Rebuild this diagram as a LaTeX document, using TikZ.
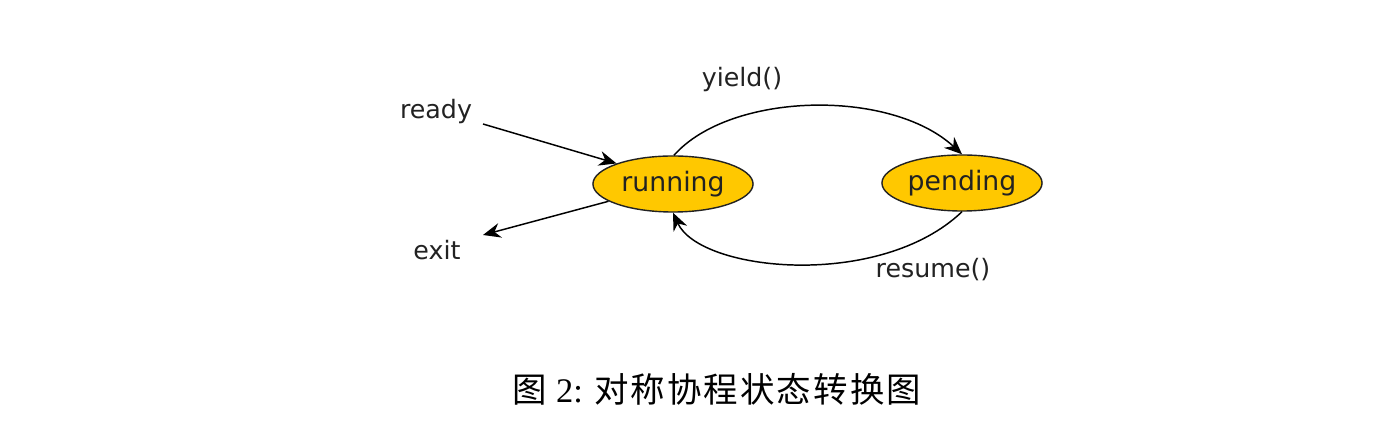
\documentclass[tikz,border=0pt]{standalone}
\usepackage{fontspec}
\setmainfont{Liberation Serif}
\newfontfamily\labelfont{DejaVu Sans}
\newfontfamily\cjk[LetterSpace=6]{Noto Sans CJK SC}
\usetikzlibrary{shapes.geometric,arrows.meta}
\definecolor{stategold}{HTML}{FFC800}
\definecolor{inkgray}{HTML}{222222}
\tikzset{
  state/.style={ellipse, draw=inkgray, line width=0.4pt, fill=stategold,
    minimum width=1.60cm, minimum height=0.56cm, inner sep=0pt,
    font=\labelfont\fontsize{7.6}{8}\selectfont, text=inkgray},
  lbl/.style={font=\labelfont\fontsize{7.2}{8}\selectfont, text=inkgray, inner sep=0pt},
  conn/.style={draw=black, line width=0.42pt, -{Stealth[length=5pt,width=4.2pt]}},
}
\begin{document}
\begin{tikzpicture}[x=0.01cm,y=-0.01cm]
\useasboundingbox[fill=white] (0,0) rectangle (1390,443);
\node[state] (running) at (673,184) {running};
\node[state] (pending) at (962,183) {pending};
\node[lbl] (ready) at (436,112) {ready};
\node[lbl] (exit) at (437,250) {exit};
\node[lbl] (yield) at (742,80) {yield()};
\node[lbl] (resume) at (933,270) {resume()};
\coordinate (readyend) at (483,124);
\coordinate (exitend) at (483,235);
\draw[conn] (readyend) -- (running.160);
\draw[conn] (running.195) -- (exitend);
\draw[conn] (running.88) .. controls (730,92) and (890,88) .. (pending.90);
\draw[conn] (pending.270) .. controls (880,290) and (700,272) .. (running.270);
\node[inner sep=0pt, font=\fontsize{9.8}{11}\selectfont] (caption) at (717,389)
  {{\cjk 图} 2: {\cjk 对称协程状态转换图}};
\end{tikzpicture}
\end{document}
